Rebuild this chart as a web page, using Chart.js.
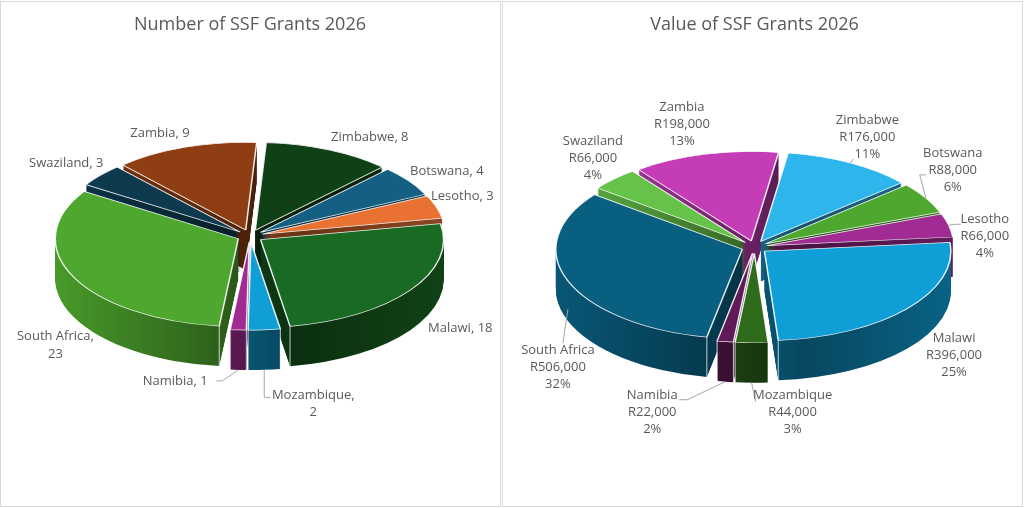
<!DOCTYPE html>
<html lang="en">
<head>
<meta charset="UTF-8">
<title>SSF Grants 2026</title>
<script src="https://cdn.jsdelivr.net/npm/chart.js@4.4.1/dist/chart.umd.min.js"></script>
<style>
  body { margin: 0; background: #fff; }
  .panel { position: absolute; top: 1px; height: 506px; border: 1px solid #d9d9d9; box-sizing: border-box; }
  #leftPanel { left: 0; width: 501px; }
  #rightPanel { left: 502px; width: 521px; }
  canvas { display: block; }
</style>
</head>
<body>
<div class="panel" id="leftPanel"><canvas id="countChart" width="499" height="504"></canvas></div>
<div class="panel" id="rightPanel"><canvas id="valueChart" width="519" height="504"></canvas></div>

<script>
  // data
  const countries = ["Botswana", "Lesotho", "Malawi", "Mozambique", "Namibia", "South Africa", "Swaziland", "Zambia", "Zimbabwe"];
  const grantCounts = [4, 3, 18, 2, 1, 23, 3, 9, 8];
  const grantValues = [88000, 66000, 396000, 44000, 22000, 506000, 66000, 198000, 176000];
  const valueShares = ["6%", "4%", "25%", "3%", "2%", "32%", "4%", "13%", "11%"];

  const countColors = ["#156082", "#E97132", "#196B24", "#0F9ED5", "#A02B93", "#4EA72E", "#0D3A4E", "#8E3E12", "#0F4016"];
  const valueColors = ["#4EA72E", "#A02B93", "#0F9ED5", "#2E6B1B", "#601A58", "#095F80", "#66C34A", "#C43DB6", "#2DB5EC"];

  const labelFont = "13px 'Open Sans', sans-serif";
  const labelColor = "#595959";

  function shade(hex, f) {
    const n = parseInt(hex.slice(1), 16);
    const r = Math.round(((n >> 16) & 255) * f);
    const g = Math.round(((n >> 8) & 255) * f);
    const b = Math.round((n & 255) * f);
    return `rgb(${r},${g},${b})`;
  }

  // fake 3D: squash the pie vertically, stack darker copies below it for the walls,
  // pull every slice out from the centre, then put the labels round the tilted rim
  function makePie3d(cfg) {
    function drawSlice(ctx, arc, y, lift, opts) {
      const mid = (arc.startAngle + arc.endAngle) / 2;
      ctx.save();
      ctx.translate(0, cfg.centerY + lift - y * cfg.tilt);
      ctx.scale(1, cfg.tilt);
      ctx.translate(Math.cos(mid) * cfg.shift, Math.sin(mid) * cfg.shift);
      const ghost = Object.create(arc);
      ghost.options = Object.assign({}, arc.options, opts);
      ghost.draw(ctx);
      ctx.restore();
    }
    return {
      id: "pie3d",
      beforeDatasetsDraw(chart) {
        const ctx = chart.ctx;
        const arcs = chart.getDatasetMeta(0).data;
        if (!arcs.length) return;
        const { x, y, outerRadius } = arcs[0];
        const walls = arcs.map((arc, i) => {
          const base = cfg.colors[i];
          const g = ctx.createLinearGradient(x - outerRadius, 0, x + outerRadius, 0);
          g.addColorStop(0, shade(base, 0.92));
          g.addColorStop(0.42, shade(base, 0.6));
          g.addColorStop(0.6, shade(base, 0.45));
          g.addColorStop(1, shade(base, 0.62));
          return g;
        });
        for (let d = cfg.depth; d >= 1; d--) {
          arcs.forEach((arc, i) => drawSlice(ctx, arc, y, d, { backgroundColor: walls[i], borderWidth: 0 }));
        }
        // light edges where the front walls turn a corner
        ctx.save();
        ctx.strokeStyle = "rgba(255,255,255,0.75)";
        ctx.lineWidth = 1;
        arcs.forEach(arc => {
          const mid = (arc.startAngle + arc.endAngle) / 2;
          [arc.startAngle, arc.endAngle].forEach(a => {
            if (Math.sin(a) < 0.05) return;
            const ex = x + Math.cos(a) * outerRadius + Math.cos(mid) * cfg.shift;
            const ey = cfg.centerY + (Math.sin(a) * outerRadius + Math.sin(mid) * cfg.shift) * cfg.tilt;
            ctx.beginPath();
            ctx.moveTo(ex, ey);
            ctx.lineTo(ex, ey + cfg.depth);
            ctx.stroke();
          });
        });
        ctx.restore();
        arcs.forEach(arc => drawSlice(ctx, arc, y, 0, {}));
        return false;
      },
      afterDraw(chart) {
        const ctx = chart.ctx;
        const arcs = chart.getDatasetMeta(0).data;
        if (!arcs.length) return;
        const { x, outerRadius } = arcs[0];
        ctx.save();
        ctx.font = labelFont;
        ctx.fillStyle = labelColor;
        ctx.strokeStyle = "#a6a6a6";
        ctx.lineWidth = 1;
        ctx.textAlign = "center";
        ctx.textBaseline = "middle";
        arcs.forEach((arc, i) => {
          const mid = (arc.startAngle + arc.endAngle) / 2;
          const r = outerRadius + cfg.shift;
          const ax = x + r * Math.cos(mid);
          const ay = cfg.centerY + r * Math.sin(mid) * cfg.tilt
            + cfg.depth * Math.min(1, Math.max(0, 2 * Math.sin(mid)));
          const [dx, dy] = cfg.nudges[i];
          const lx = ax + dx, ly = ay + dy;
          const lead = cfg.leaders[i];
          if (lead) {
            ctx.beginPath();
            ctx.moveTo(ax, ay);
            ctx.lineTo(lx + lead[0], ly + lead[1]);
            if (lead[2]) ctx.lineTo(lx + lead[0] + lead[2], ly + lead[1]);
            ctx.stroke();
          }
          const lines = cfg.texts[i];
          lines.forEach((t, k) => {
            ctx.fillText(t, lx, ly + (k - (lines.length - 1) / 2) * cfg.lineHeight);
          });
        });
        ctx.restore();
      }
    };
  }

  function pieConfig(values, colors, title, rotation, padLeft, padRight, plugin) {
    return {
      type: "pie",
      data: {
        labels: countries,
        datasets: [{
          data: values,
          backgroundColor: colors,
          borderColor: "rgba(255,255,255,0.9)",
          borderWidth: 1.5,
          offset: 0,
          clip: false
        }]
      },
      options: {
        responsive: false,
        animation: false,
        rotation: rotation,
        layout: { padding: { left: padLeft, right: padRight, top: 0, bottom: 0 } },
        plugins: {
          legend: { display: false },
          tooltip: { enabled: false },
          title: {
            display: true,
            text: title,
            color: "#595959",
            font: { family: "'Open Sans', sans-serif", size: 18, weight: "normal", lineHeight: 1.2 },
            padding: { top: 12, bottom: 8 }
          }
        }
      },
      plugins: [plugin]
    };
  }

  const wrapCount = ["South Africa", "Mozambique"];
  const countTexts = countries.map((c, i) =>
    wrapCount.includes(c) ? [c + ",", String(grantCounts[i])] : [c + ", " + grantCounts[i]]);
  const valueTexts = countries.map((c, i) =>
    [c, "R" + grantValues[i].toLocaleString("en-US"), valueShares[i]]);

  new Chart(document.getElementById("countChart"), pieConfig(
    grantCounts, countColors, "Number of SSF Grants 2026", 44, 65.25, 66.25,
    makePie3d({
      colors: countColors, centerY: 234, tilt: 0.48, depth: 40, shift: 13, lineHeight: 17.5,
      texts: countTexts,
      nudges: [[38, -10], [26, -10], [50, -2], [49, 34], [-63, 11], [-18, 34], [-34, -12], [-25, -14], [41, -13]],
      leaders: [null, null, null, [-49, -6.5, 6], [47, 0, -6], null, null, null, null]
    })
  ));

  new Chart(document.getElementById("valueChart"), pieConfig(
    grantValues, valueColors, "Value of SSF Grants 2026", 49, 64.25, 80.25,
    makePie3d({
      colors: valueColors, centerY: 245, tilt: 0.48, depth: 40, shift: 13, lineHeight: 17,
      texts: valueTexts,
      nudges: [[27, -28], [36, 11], [47, 7], [41, 30], [-73, 31], [-10, 58], [-21, -21], [-23, -30], [17, -26]],
      leaders: [[-33, 5, 6], [-30, -12, 6], null, [-37, -11, 0], [35, -13, -8], [5, -24, 0], null, null, [-14, 22, 0]]
    })
  ));
</script>
</body>
</html>
